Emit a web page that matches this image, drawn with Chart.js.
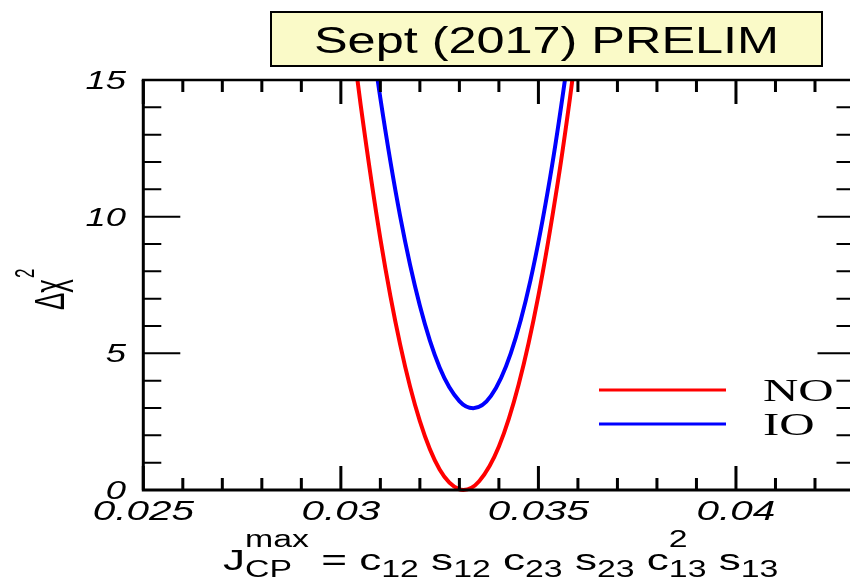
<!DOCTYPE html>
<html>
<head>
<meta charset="utf-8">
<script src="https://cdn.jsdelivr.net/npm/chart.js@4/dist/chart.umd.min.js"></script>
<style>
  html, body { margin: 0; padding: 0; background: #fff; overflow: hidden; }
  canvas { display: block; }
</style>
</head>
<body>
<canvas id="chiChart" width="870" height="578"></canvas>
<script>
// Delta chi^2 profiles vs J_CP^max, normal and inverted ordering
const noJ   = [0.0302, 0.0305, 0.0310, 0.0315, 0.0320, 0.0325, 0.0330, 0.0331, 0.0335, 0.0340, 0.0345, 0.0350, 0.0355, 0.0358, 0.0361];
const noChi = [17.5, 14.1, 9.19, 5.33, 2.52, 0.75, 0.02, 0.0, 0.32, 1.59, 3.86, 7.11, 11.34, 14.35, 17.7];

const ioJ   = [0.0306, 0.0310, 0.0315, 0.0320, 0.0325, 0.0330, 0.03335, 0.0338, 0.0343, 0.0348, 0.0353, 0.0357, 0.0360];
const ioChi = [18.5, 14.33, 10.02, 6.74, 4.48, 3.25, 2.99, 3.44, 5.0, 7.68, 11.47, 15.3, 18.64];

const xMajor = [0.025, 0.03, 0.035, 0.04];
const xTickLabels = ['0.025', '0.03', '0.035', '0.04'];
const yMajor = [0, 5, 10, 15];
const yTickLabels = ['0', '5', '10', '15'];
const seriesNames = ['NO', 'IO'];
const titleText = 'Sept (2017) PRELIM';

const X_MIN = 0.025, X_MAX = 0.043, X_MINOR = 0.001;
const Y_MIN = 0, Y_MAX = 15, Y_MINOR = 1;

function toPoints(xs, ys) {
  return xs.map((v, i) => ({ x: v, y: ys[i] }));
}

// text squeezed/stretched horizontally
function stretchText(ctx, text, x, y, sx, align) {
  ctx.save();
  ctx.translate(x, y);
  ctx.scale(sx, 1);
  ctx.textAlign = align || 'left';
  ctx.fillText(text, 0, 0);
  const w = ctx.measureText(text).width * sx;
  ctx.restore();
  return w;
}

const framePlugin = {
  id: 'frame',
  afterDatasetsDraw(chart) {
    const { ctx, chartArea: a, scales: { x, y } } = chart;
    ctx.save();
    ctx.strokeStyle = '#000';
    ctx.lineCap = 'butt';

    // x ticks, bottom and top, pointing inward
    ctx.lineWidth = 3;
    const nx = Math.round((X_MAX - X_MIN) / X_MINOR);
    for (let i = 0; i <= nx; i++) {
      const px = x.getPixelForValue(X_MIN + i * X_MINOR);
      const len = i % 5 === 0 ? 24 : 12;
      ctx.beginPath();
      ctx.moveTo(px, a.bottom); ctx.lineTo(px, a.bottom - len);
      ctx.moveTo(px, a.top); ctx.lineTo(px, a.top + len);
      ctx.stroke();
    }
    // y ticks, left and right
    ctx.lineWidth = 2;
    const ny = Math.round((Y_MAX - Y_MIN) / Y_MINOR);
    for (let j = 0; j <= ny; j++) {
      const py = y.getPixelForValue(Y_MIN + j * Y_MINOR);
      const len = j % 5 === 0 ? 37 : 18;
      ctx.beginPath();
      ctx.moveTo(a.left, py); ctx.lineTo(a.left + len, py);
      ctx.moveTo(a.right, py); ctx.lineTo(a.right - len, py);
      ctx.stroke();
    }

    // frame
    ctx.lineWidth = 3;
    ctx.beginPath();
    ctx.moveTo(a.left, a.top); ctx.lineTo(a.left, a.bottom);
    ctx.moveTo(a.left - 1.5, a.bottom); ctx.lineTo(a.right, a.bottom);
    ctx.lineTo(a.right, a.top);
    ctx.stroke();
    ctx.lineWidth = 2.5;
    ctx.beginPath();
    ctx.moveTo(a.left - 1.5, a.top); ctx.lineTo(a.right, a.top);
    ctx.stroke();

    ctx.fillStyle = '#000';
    ctx.textBaseline = 'alphabetic';

    // tick labels
    ctx.font = "italic 27px 'Liberation Sans', Arial, sans-serif";
    xMajor.forEach((v, i) => {
      stretchText(ctx, xTickLabels[i], x.getPixelForValue(v), 520, 1.5, 'center');
    });
    ctx.font = "italic 26px 'Liberation Sans', Arial, sans-serif";
    yMajor.forEach((v, i) => {
      stretchText(ctx, yTickLabels[i], 126, y.getPixelForValue(v) + 9, 1.4, 'right');
    });

    // y title: rotated Delta chi^2
    ctx.save();
    ctx.translate(64, 310);
    ctx.rotate(-Math.PI / 2);
    ctx.scale(1, 1.6);
    ctx.font = "26px 'Liberation Sans', Arial, sans-serif";
    ctx.fillText('Δχ', 0, 0);
    const dw = ctx.measureText('Δχ').width;
    ctx.font = "17px 'Liberation Sans', Arial, sans-serif";
    ctx.fillText('2', dw + 1, -19);
    ctx.restore();

    // x title with sub- and superscripts
    const sx = 1.47, base = 570, supY = 547, subY = 577;
    const big = "30px 'Liberation Sans', Arial, sans-serif";
    const small = "23px 'Liberation Sans', Arial, sans-serif";
    let cx = 223;
    const put = (text, font, yy, advance) => {
      ctx.font = font;
      const w = stretchText(ctx, text, cx, yy, sx, 'left');
      if (advance !== false) cx += w;
      return w;
    };
    put('J', big, base);
    const wMax = put('max', small, supY, false);
    const wCP = put('CP', small, subY, false);
    cx += Math.max(wMax, wCP);
    put(' = c', big, base);
    put('12', small, subY);
    put(' s', big, base);
    put('12', small, subY);
    put(' c', big, base);
    put('23', small, subY);
    put(' s', big, base);
    put('23', small, subY);
    put(' c', big, base);
    put('2', small, supY, false);
    put('13', small, subY);
    put(' s', big, base);
    put('13', small, subY);

    // legend
    const legendY = [390, 424];
    const legendColors = ['#ff0000', '#0000ff'];
    ctx.lineWidth = 3;
    legendY.forEach((ly, i) => {
      ctx.strokeStyle = legendColors[i];
      ctx.beginPath();
      ctx.moveTo(599, ly); ctx.lineTo(726, ly);
      ctx.stroke();
    });
    ctx.font = "31px 'Liberation Serif', 'Times New Roman', serif";
    stretchText(ctx, seriesNames[0], 763, 401, 1.58, 'left');
    stretchText(ctx, seriesNames[1], 763, 435, 1.58, 'left');

    // title box
    ctx.fillStyle = '#fafac8';
    ctx.fillRect(271, 12, 551, 54);
    ctx.strokeStyle = '#000';
    ctx.lineWidth = 2;
    ctx.strokeRect(271, 12, 551, 54);
    ctx.fillStyle = '#000';
    ctx.font = "36px 'Liberation Sans', Arial, sans-serif";
    stretchText(ctx, titleText, 546.5, 52.5, 1.4, 'center');

    ctx.restore();
  }
};

new Chart(document.getElementById('chiChart'), {
  type: 'line',
  data: {
    datasets: [
      {
        label: seriesNames[0],
        data: toPoints(noJ, noChi),
        borderColor: '#ff0000',
        borderWidth: 4,
        cubicInterpolationMode: 'monotone',
        pointRadius: 0,
        fill: false,
        clip: { left: 0, top: 0, right: 0, bottom: 4 }
      },
      {
        label: seriesNames[1],
        data: toPoints(ioJ, ioChi),
        borderColor: '#0000ff',
        borderWidth: 4,
        cubicInterpolationMode: 'monotone',
        pointRadius: 0,
        fill: false,
        clip: { left: 0, top: 0, right: 0, bottom: 4 }
      }
    ]
  },
  options: {
    responsive: false,
    animation: false,
    layout: { padding: { left: 143.3, top: 80, right: 15.5, bottom: 88 } },
    plugins: { legend: { display: false }, tooltip: { enabled: false } },
    scales: {
      x: { type: 'linear', min: X_MIN, max: X_MAX, display: false },
      y: { type: 'linear', min: Y_MIN, max: Y_MAX, display: false }
    }
  },
  plugins: [framePlugin]
});
</script>
</body>
</html>
